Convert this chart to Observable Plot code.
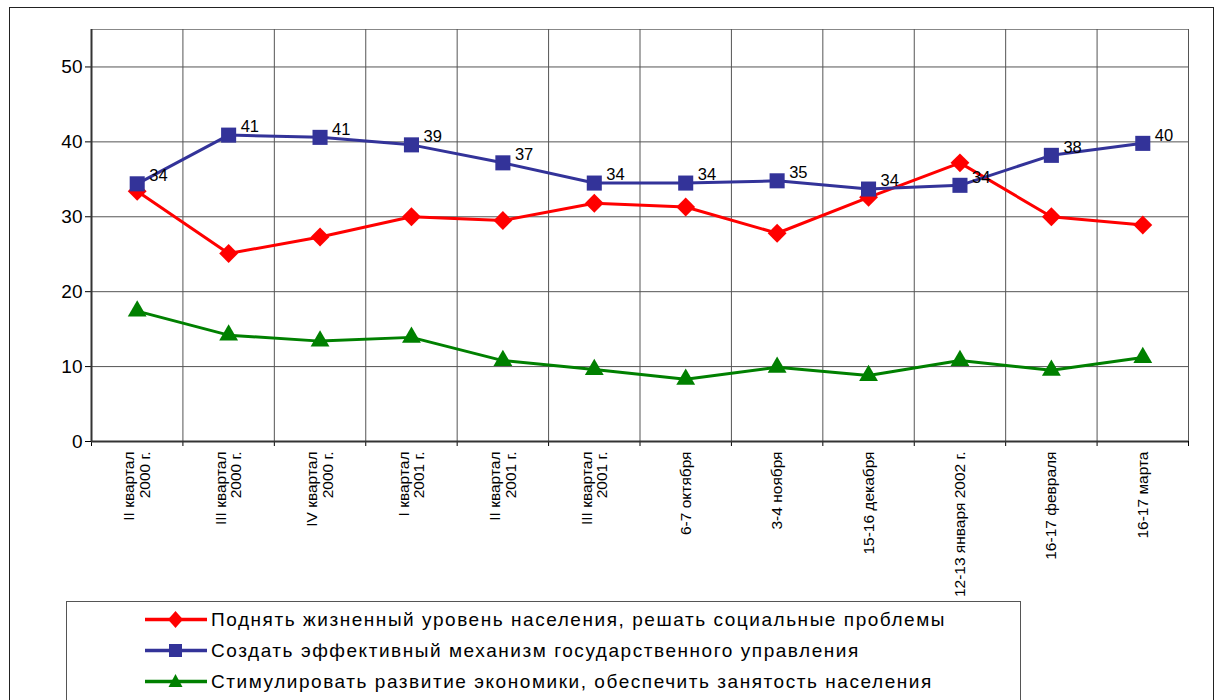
<!DOCTYPE html>
<html><head><meta charset="utf-8">
<script src="https://cdn.jsdelivr.net/npm/d3@7"></script>
<script src="https://cdn.jsdelivr.net/npm/@observablehq/plot@0.6"></script>
<style>
body{margin:0;background:#fff;font-family:"Liberation Sans",Arial,sans-serif;overflow:hidden;}
#frame{position:absolute;left:9px;top:7px;width:1205px;height:720px;border:1.5px solid #222;box-sizing:border-box;}
#chart{position:absolute;left:0;top:0;}
#legend{position:absolute;left:66px;top:601px;width:955px;height:140px;border:1.5px solid #555;box-sizing:border-box;background:#fff;}
.item{position:absolute;left:78px;display:flex;align-items:center;font-size:19px;letter-spacing:1.55px;color:#000;white-space:nowrap;}
.item svg{margin-right:4px;}
</style></head><body>
<div id="frame"></div>
<div id="chart"></div>
<div id="legend"></div>
<script>
const categories = ["II квартал\n2000 г.", "III квартал\n2000 г.", "IV квартал\n2000 г.", "I квартал\n2001 г.", "II квартал\n2001 г.", "III квартал\n2001 г.", "6-7 октября", "3-4 ноября", "15-16 декабря", "12-13 января 2002 г.", "16-17 февраля", "16-17 марта"];
const seriesNames = ["Поднять жизненный уровень населения, решать социальные проблемы", "Создать эффективный механизм государственного управления", "Стимулировать развитие экономики, обеспечить занятость населения"];
const redValues = [33.4, 25.1, 27.3, 30.0, 29.5, 31.8, 31.3, 27.8, 32.6, 37.2, 30.0, 28.9];
const blueValues = [34.4, 40.9, 40.6, 39.6, 37.2, 34.5, 34.5, 34.8, 33.7, 34.2, 38.2, 39.8];
const greenValues = [17.4, 14.2, 13.4, 13.9, 10.8, 9.6, 8.3, 9.9, 8.8, 10.8, 9.5, 11.2];
const blueLabels = ["34", "41", "41", "39", "37", "34", "34", "35", "34", "34", "38", "40"];
const yTicks = [0, 10, 20, 30, 40, 50];

const colors = ["#ff0000", "#333399", "#008000"];
const symbols = ["diamond2", "square", "triangle"];
const radii = [8.5, 8.5, 7];

const idx = categories.map((_, i) => i);
const bounds = d3.range(categories.length + 1).map(i => i - 0.5);
const mk = vals => vals.map((v, i) => ({i, v}));
const red = mk(redValues), blue = mk(blueValues), green = mk(greenValues);
blue.forEach((d, i) => d.label = blueLabels[i]);

const series = [red, blue, green];
const order = [0, 1, 2];
const marks = [
  Plot.gridY(yTicks.filter(t => t > 0), {stroke: "#555", strokeOpacity: 1, strokeWidth: 1}),
  Plot.ruleY([55], {stroke: "#888", strokeWidth: 1}),
  Plot.ruleX(bounds.slice(1), {stroke: "#555", strokeWidth: 1}),
  Plot.axisY({ticks: yTicks, tickSize: 6, tickPadding: 3, fontSize: 19, tickFormat: d => d, label: null}),
  Plot.axisX({ticks: bounds, tickSize: 5, tickFormat: () => "", label: null}),
  Plot.axisX({ticks: idx, tickSize: 0, tickPadding: 10, tickRotate: -90, textAnchor: "end", lineAnchor: "middle", fontSize: 15.5, tickFormat: i => categories[i], lineHeight: 1.0, label: null}),
  Plot.ruleX([-0.5], {stroke: "#333", strokeWidth: 2}),
  Plot.ruleY([0], {stroke: "#333", strokeWidth: 2}),
];
for (const k of order) {
  marks.push(Plot.line(series[k], {x: "i", y: "v", stroke: colors[k], strokeWidth: 3}));
  marks.push(Plot.dot(series[k], {x: "i", y: "v", fill: colors[k], symbol: symbols[k], r: radii[k], stroke: "none"}));
}
marks.push(Plot.text(blue, {x: "i", y: "v", text: "label", dx: 12, dy: -8, textAnchor: "start", fontSize: 16.5, fill: "#000"}));

const chart = Plot.plot({
  width: 1219, height: 600,
  marginTop: 29, marginLeft: 91, marginRight: 31, marginBottom: 159,
  style: {fontFamily: "'Liberation Sans', Arial, sans-serif", color: "#000", background: "transparent", overflow: "visible"},
  x: {domain: [-0.5, categories.length - 0.5], axis: null},
  y: {domain: [0, 55], axis: null},
  marks
});
document.getElementById("chart").append(chart);

const lg = document.getElementById("legend");
seriesNames.forEach((name, k) => {
  const it = document.createElement("div");
  it.className = "item";
  it.style.top = (6 + 31 * k) + "px";
  const sym = symbols[k];
  const shape = sym === "square" ? '<rect x="24" y="5" width="13" height="13" fill="' + colors[k] + '"/>'
    : sym === "diamond2" ? '<path d="M30.5 3 L38 11.5 L30.5 20 L23 11.5 Z" fill="' + colors[k] + '"/>'
    : '<path d="M30.5 4 L37.5 17 L23.5 17 Z" fill="' + colors[k] + '"/>';
  it.innerHTML = '<svg width="62" height="23"><line x1="0" x2="62" y1="11.5" y2="11.5" stroke="' + colors[k] + '" stroke-width="3.5"/>' + shape + '</svg><span>' + name + '</span>';
  lg.append(it);
});
</script>
</body></html>
